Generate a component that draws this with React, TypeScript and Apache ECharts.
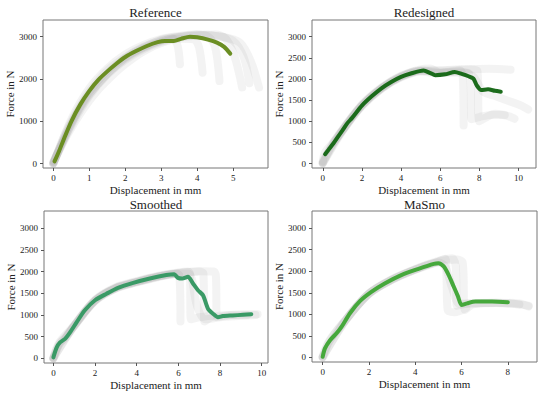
import React, { useEffect, useRef } from "react";
import * as echarts from "echarts";

// ---------- Data (displacement in mm, force in N) ----------
// Reference
const refMain = [[0.03,50],[0.15,280],[0.3,600],[0.5,1000],[0.75,1400],[1.0,1720],[1.25,1980],[1.5,2180],[1.75,2360],[2.0,2520],[2.3,2660],[2.6,2780],[2.9,2870],[3.1,2900],[3.35,2900],[3.55,2950],[3.8,3000],[4.0,2985],[4.3,2930],[4.55,2860],[4.75,2760],[4.92,2600]];
const refGrey1 = [[0,0],[0.3,650],[0.6,1150],[1,1700],[1.5,2200],[2,2520],[2.5,2760],[3,2920],[3.3,2960],[3.45,2800],[3.52,2350]];
const refGrey2 = [[0,30],[0.4,700],[0.8,1250],[1.2,1700],[1.6,2050],[2,2350],[2.5,2650],[3,2850],[3.5,2950],[3.9,2940],[4.05,2750],[4.15,2150]];
const refGrey3 = [[0,0],[0.5,1050],[1,1780],[1.5,2250],[2,2580],[2.5,2800],[3,2950],[3.5,3020],[4,3050],[4.3,3000],[4.5,2750],[4.62,1950]];
const refGrey4 = [[0,50],[0.5,900],[1,1600],[1.5,2100],[2,2450],[2.5,2700],[3,2880],[3.5,2980],[4,3030],[4.5,3050],[4.8,2950],[5.05,2500],[5.25,1800]];
const refGrey5 = [[0,0],[0.5,950],[1,1650],[2,2500],[3,2930],[3.5,3000],[4,3050],[4.5,3020],[5.0,2900],[5.3,2500],[5.45,1900]];
const refGrey6 = [[0,20],[0.6,1100],[1.2,1850],[2,2480],[3,2900],[4,3030],[4.7,3000],[5.2,2850],[5.5,2400],[5.72,1800]];

// Redesigned
const redMain = [[0.12,220],[0.3,330],[0.55,480],[0.8,650],[1.0,780],[1.25,950],[1.5,1080],[2.0,1370],[2.5,1590],[3.0,1780],[3.5,1930],[4.0,2050],[4.5,2130],[5.15,2200],[5.5,2140],[5.75,2090],[6.25,2110],[6.75,2165],[7.1,2120],[7.45,2065],[7.7,2010],[7.87,1850],[8.1,1740],[8.45,1755],[8.8,1720],[9.1,1700]];
const redGrey1 = [[0,30],[0.1,250],[0.5,480],[1,800],[2,1400],[3,1800],[4,2080],[5,2230],[5.5,2250],[6,2150],[6.5,2170],[7,2200],[7.15,2100],[7.2,900]];
const redGrey2 = [[0,0],[0.5,450],[1,780],[2,1380],[3,1790],[4,2060],[5,2200],[5.5,2200],[6.5,2200],[7.5,2230],[8.5,2240],[9.6,2220]];
const redGrey3 = [[0,50],[0.5,460],[1,770],[2,1360],[3,1770],[4,2040],[5,2180],[5.6,2150],[6.5,2150],[7.4,2150],[7.55,2000],[7.6,1050],[8,1100],[8.6,1150],[9.2,1150],[9.8,1060]];
const redGrey4 = [[0,20],[1,790],[2,1380],[3,1780],[4,2060],[5,2200],[6,2150],[7,2180],[7.7,2050],[8.2,1700],[8.8,1600],[9.5,1480],[10.1,1380],[10.5,1280]];
const redGrey5 = [[0,0],[1,760],[2,1360],[3,1770],[4,2050],[5,2190],[6,2200],[7,2230],[7.9,2200],[8.0,1000],[8.3,1080],[8.8,1180],[9.3,1150]];

// Smoothed
const smoMain = [[0,25],[0.16,255],[0.32,370],[0.56,450],[0.8,600],[1.12,835],[1.5,1105],[2.0,1340],[2.55,1490],[3.1,1625],[3.83,1740],[4.63,1840],[5.42,1920],[5.8,1940],[5.98,1855],[6.19,1840],[6.46,1880],[6.7,1725],[6.94,1570],[7.18,1455],[7.42,1145],[7.66,1030],[7.9,950],[8.13,975],[8.6,990],[9.1,1005],[9.5,1020]];
const smoGrey1 = [[0,0],[0.3,350],[0.6,480],[1,750],[2,1330],[3,1620],[4,1760],[5,1880],[5.9,1950],[6.05,1900],[6.1,850]];
const smoGrey2 = [[0,30],[0.3,380],[1,760],[2,1350],[3,1640],[4,1780],[5,1900],[6,1980],[6.45,2000],[6.55,1950],[6.6,900],[7,950],[7.6,980]];
const smoGrey3 = [[0,0],[0.3,330],[1,740],[2,1320],[3,1610],[4,1750],[5,1870],[6,1960],[7,2000],[7.2,1950],[7.25,850],[7.6,950],[8.5,1000],[9.3,1000]];
const smoGrey4 = [[0,10],[1,770],[2,1340],[3,1630],[4,1770],[5,1890],[6,1970],[7,2010],[7.7,2000],[7.8,1900],[7.85,950],[8.5,1000],[9.2,1020],[9.8,1020]];
const smoGrey5 = [[0,0],[1,750],[2,1330],[3,1620],[4,1760],[5,1880],[6,1950],[6.5,1950],[6.9,1200],[7.3,900],[8,950],[9,980],[9.7,1000]];

// MaSmo
const masMain = [[0,15],[0.1,210],[0.32,400],[0.6,560],[0.82,715],[1.18,1025],[1.62,1310],[2.12,1525],[2.7,1720],[3.42,1915],[4.14,2055],[4.8,2170],[5.0,2185],[5.23,2110],[5.44,1915],[5.66,1645],[5.85,1410],[6.0,1215],[6.24,1255],[6.6,1295],[7.32,1295],[8.0,1280]];
const masGrey1 = [[0,0],[0.3,380],[1,870],[2,1480],[3,1800],[4,2030],[5,2220],[5.3,2290],[5.35,1900],[5.4,1100],[5.7,1050],[6.2,1150]];
const masGrey2 = [[0,30],[0.3,400],[1,880],[2,1490],[3,1820],[4,2050],[5,2240],[5.6,2300],[5.75,2100],[5.8,1200],[6.3,1250],[7.5,1270],[8.5,1250],[8.9,1180]];
const masGrey3 = [[0,0],[1,860],[2,1470],[3,1810],[4,2040],[5,2220],[5.8,2270],[6.05,2200],[6.15,1100],[6.5,1230],[7.5,1260],[8.5,1230]];
const masGrey4 = [[0,10],[1,870],[2,1480],[3,1800],[4,2040],[5,2200],[5.3,2100],[5.6,1600],[5.9,1250],[6.3,1250],[7.5,1270],[8.9,1200]];

const titles = ["Reference", "Redesigned", "Smoothed", "MaSmo"];
const refXTicks = [0, 1, 2, 3, 4, 5];
const redXTicks = [0, 2, 4, 6, 8, 10];
const smoXTicks = [0, 2, 4, 6, 8, 10];
const masXTicks = [0, 2, 4, 6, 8];
const refYTicks = [0, 1000, 2000, 3000];
const otherYTicks = [0, 500, 1000, 1500, 2000, 2500, 3000];

const FONT = "Liberation Serif";

export default function App() {
  const ref = useRef<HTMLDivElement>(null);
  useEffect(() => {
    if (!ref.current) return;
    const chart = echarts.init(ref.current, null, { renderer: "svg" });
    const panels = [
      { title: titles[0], ty: 12, box: { left: 43, top: 20, width: 225, height: 148 }, xr: [-0.29, 5.97], xt: refXTicks, yt: refYTicks, main: refMain, color: "#6b8e23", greys: [refGrey1, refGrey2, refGrey3, refGrey4, refGrey5, refGrey6] },
      { title: titles[1], ty: 12, box: { left: 312, top: 20, width: 224, height: 148 }, xr: [-0.55, 10.9], xt: redXTicks, yt: otherYTicks, main: redMain, color: "#1b6b1b", greys: [redGrey1, redGrey2, redGrey3, redGrey4, redGrey5] },
      { title: titles[2], ty: 204, box: { left: 44, top: 211, width: 224, height: 152 }, xr: [-0.45, 10.3], xt: smoXTicks, yt: otherYTicks, main: smoMain, color: "#3a9a66", greys: [smoGrey1, smoGrey2, smoGrey3, smoGrey4, smoGrey5] },
      { title: titles[3], ty: 204, box: { left: 312, top: 211, width: 225, height: 151 }, xr: [-0.46, 9.26], xt: masXTicks, yt: otherYTicks, main: masMain, color: "#46a83c", greys: [masGrey1, masGrey2, masGrey3, masGrey4] },
    ];
    const grid: any[] = [];
    const xAxis: any[] = [];
    const yAxis: any[] = [];
    const series: any[] = [];
    const graphic: any[] = [];
    const fmt = (v: number) => String(Math.round(v));
    const nameStyle = { fontFamily: FONT, fontSize: 11, color: "#222" };
    panels.forEach((p, i) => {
      grid.push({ ...p.box, show: true, borderColor: "#777", borderWidth: 1, backgroundColor: "transparent", containLabel: false });
      xAxis.push({
        type: "value", gridIndex: i, min: p.xr[0], max: p.xr[1], position: "bottom",
        name: "Displacement in mm", nameLocation: "middle", nameGap: 16,
        nameTextStyle: nameStyle,
        axisLine: { show: false, onZero: false },
        axisTick: { show: true, length: 3, lineStyle: { color: "#555" }, customValues: p.xt },
        axisLabel: { fontFamily: FONT, fontSize: 9, color: "#222", margin: 5, customValues: p.xt, formatter: fmt },
        splitLine: { show: false },
      });
      yAxis.push({
        type: "value", gridIndex: i, min: -105, max: 3395, position: "left",
        name: "Force in N", nameLocation: "middle", nameGap: 27, nameRotate: 90,
        nameTextStyle: nameStyle,
        axisLine: { show: false, onZero: false },
        axisTick: { show: true, length: 3, lineStyle: { color: "#555" }, customValues: p.yt },
        axisLabel: { fontFamily: FONT, fontSize: 9, color: "#222", margin: 6, customValues: p.yt, formatter: fmt },
        splitLine: { show: false },
      });
      p.greys.forEach((g) => {
        series.push({
          type: "line", xAxisIndex: i, yAxisIndex: i, data: g, showSymbol: false, smooth: 0.3,
          lineStyle: { color: "rgba(120,120,120,0.09)", width: 8, cap: "round", join: "round" },
          silent: true, z: 1,
        });
      });
      series.push({
        type: "line", xAxisIndex: i, yAxisIndex: i, data: p.main, showSymbol: false, smooth: 0.25,
        lineStyle: { color: p.color, width: 4, cap: "round", join: "round" }, z: 3,
      });
      graphic.push({
        type: "text", x: p.box.left + p.box.width / 2, y: p.ty,
        style: { text: p.title, fontFamily: FONT, fontSize: 13, fontWeight: "normal", fill: "#222", align: "center", verticalAlign: "middle" },
      });
    });
    chart.setOption({
      animation: false,
      backgroundColor: "#fff",
      grid, xAxis, yAxis, series, graphic,
    });
    return () => chart.dispose();
  }, []);
  return <div ref={ref} style={{ position: "fixed", left: 0, top: 0, width: 550, height: 396 }} />;
}
